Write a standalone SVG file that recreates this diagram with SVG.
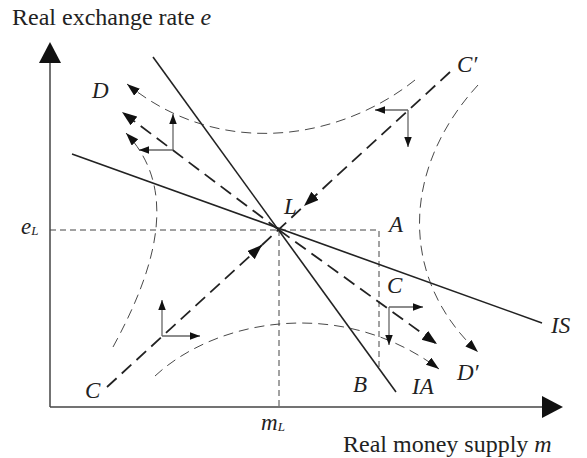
<svg xmlns="http://www.w3.org/2000/svg" width="587" height="458" viewBox="0 0 587 458">
<style>
text{font-family:"Liberation Serif","Times New Roman",serif;fill:#222;font-size:23px}
.title{font-size:24px}
.it{font-style:italic}
.sub{font-size:13px;font-style:italic}
.axis{stroke:#444;stroke-width:1.5;fill:none}
.solid{stroke:#222;stroke-width:1.6;fill:none}
.guide{stroke:#444;stroke-width:1;stroke-dasharray:6 4;fill:none}
.curve{stroke:#333;stroke-width:0.9;stroke-dasharray:10 6;fill:none}
.thick{stroke:#222;stroke-width:1.8;stroke-dasharray:13 7;fill:none}
.dir{stroke:#666;stroke-width:1.3;fill:none}
</style>
<defs>
<marker id="ahBig" markerUnits="userSpaceOnUse" markerWidth="16" markerHeight="12" refX="15" refY="5.5" orient="auto">
<path d="M0,0 L15,5.5 L0,11 z" fill="#111"/>
</marker>
<marker id="ahMid" markerUnits="userSpaceOnUse" markerWidth="14" markerHeight="10" refX="13" refY="4.5" orient="auto">
<path d="M0,0 L13,4.5 L0,9 z" fill="#111"/>
</marker>
<marker id="ahSmall" markerUnits="userSpaceOnUse" markerWidth="11" markerHeight="9" refX="10" refY="3.75" orient="auto">
<path d="M0,0 L10,3.75 L0,7.5 z" fill="#111"/>
</marker>
</defs>

<g id="axes">
<line class="axis" x1="50" y1="407" x2="50" y2="60"/>
<polygon points="50,42 39,63 61,63" fill="#111"/>
<line class="axis" x1="50" y1="407" x2="544" y2="407"/>
<polygon points="563,407 542,396 542,418" fill="#111"/>
<text class="title" x="12" y="25">Real exchange rate <tspan class="it">e</tspan></text>
<text class="title" x="343" y="452">Real money supply <tspan class="it">m</tspan></text>
</g>

<g id="guides">
<path class="guide" d="M50,230 L379,230 L379,370"/>
<path class="guide" d="M279,230 L279,407"/>
<text class="it" x="21" y="234">e<tspan class="sub" dy="1">L</tspan></text>
<text class="it" x="261" y="430">m<tspan class="sub" dy="1">L</tspan></text>
</g>

<g id="connectors">
<line id="IS" class="solid" x1="72" y1="154" x2="542" y2="323"/>
<line id="steep" class="solid" x1="153" y1="57" x2="396" y2="392"/>
<path class="curve" d="M415,80 C340,140 220,160 127,84" marker-end="url(#ahMid)"/>
<path class="curve" d="M113,347 C155,270 180,190 126,133" marker-end="url(#ahMid)"/>
<path class="curve" d="M155,376 C215,320 340,295 439,369" marker-end="url(#ahMid)"/>
<path class="curve" d="M478,85 C400,170 400,280 478,352" marker-end="url(#ahMid)"/>
<path class="thick" d="M107,387 L262,245" marker-end="url(#ahBig)"/>
<path class="thick" d="M450,72 L304,206" marker-end="url(#ahBig)"/>
<path class="thick" d="M262,245 L304,206" stroke-dasharray="9 5"/>
<path class="thick" d="M279,230 L122,112" marker-end="url(#ahBig)"/>
<path class="thick" d="M279,230 L437,344" marker-end="url(#ahBig)"/>
<path class="dir" d="M173,150 L173,114" marker-end="url(#ahSmall)"/>
<path class="dir" d="M173,150 L139,150" marker-end="url(#ahSmall)"/>
<path class="dir" d="M408,110 L375,110" marker-end="url(#ahSmall)"/>
<path class="dir" d="M408,110 L408,147" marker-end="url(#ahSmall)"/>
<path class="dir" d="M162,336 L162,300" marker-end="url(#ahSmall)"/>
<path class="dir" d="M162,336 L200,336" marker-end="url(#ahSmall)"/>
<path class="dir" d="M389,307 L423,307" marker-end="url(#ahSmall)"/>
<path class="dir" d="M389,307 L389,345" marker-end="url(#ahSmall)"/>
</g>

<g id="label-D"><text class="it" x="92" y="98">D</text></g>
<g id="label-Cprime"><text class="it" x="457" y="72">C′</text></g>
<g id="label-L"><text class="it" x="284" y="214">L</text></g>
<g id="label-A"><text class="it" x="389" y="232">A</text></g>
<g id="label-C-right"><text class="it" x="387" y="293">C</text></g>
<g id="label-IS"><text class="it" x="551" y="333">IS</text></g>
<g id="label-Dprime"><text class="it" x="457" y="380">D′</text></g>
<g id="label-IA"><text class="it" x="412" y="394">IA</text></g>
<g id="label-B"><text class="it" x="353" y="392">B</text></g>
<g id="label-C-left"><text class="it" x="85" y="398">C</text></g>
</svg>
